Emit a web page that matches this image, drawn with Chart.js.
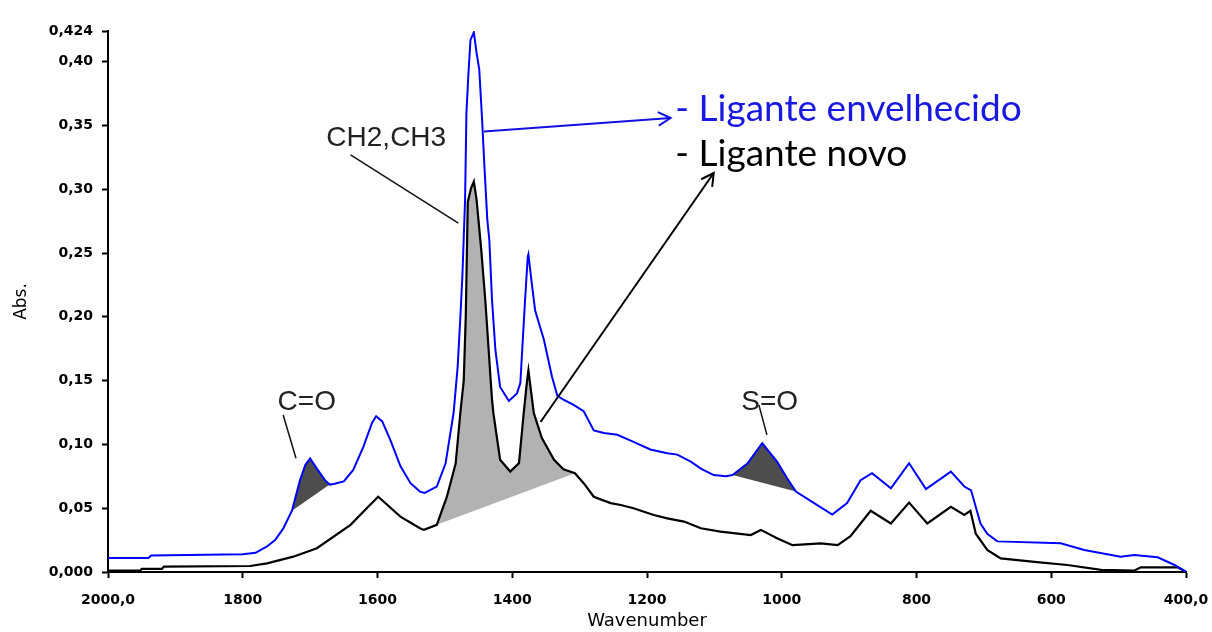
<!DOCTYPE html>
<html><head><meta charset="utf-8">
<script src="https://cdn.jsdelivr.net/npm/chart.js@4.4.1/dist/chart.umd.min.js"></script>
<style>html,body{margin:0;padding:0;background:#fff;} #wrap{width:1212px;height:632px;}</style>
</head><body><div id="wrap"><canvas id="c" width="1212" height="632"></canvas></div>
<script>
// ---- data ----
const blueWn = [2000,1940,1936,1800,1781,1764,1752,1740,1727,1715,1707,1700,1690,1678,1671,1665,1650,1636,1621,1608,1602,1593,1581,1566,1551,1537,1530,1512,1499,1487,1481,1477,1474,1470,1468,1465,1462,1457,1453,1449,1445,1441,1437,1434,1430,1425,1418,1405,1393,1388,1381,1377,1376,1371,1366,1353,1341,1333,1324,1309,1294,1279,1264,1244,1220,1195,1170,1155,1135,1120,1101,1083,1073,1051,1029,1007,992,979,952,925,903,883,866,838,811,786,749,729,719,712,705,695,680,586,551,497,477,442,417,400];
const blueAbs = [0.011,0.011,0.013,0.014,0.015,0.020,0.025,0.034,0.048,0.072,0.084,0.089,0.081,0.072,0.0685,0.069,0.071,0.080,0.098,0.117,0.122,0.118,0.1035,0.083,0.0696,0.063,0.062,0.067,0.085,0.125,0.161,0.200,0.232,0.292,0.360,0.391,0.417,0.423,0.407,0.394,0.357,0.315,0.276,0.260,0.213,0.174,0.145,0.134,0.140,0.148,0.213,0.247,0.249,0.226,0.205,0.182,0.153,0.138,0.135,0.131,0.126,0.111,0.109,0.1075,0.102,0.096,0.093,0.092,0.0865,0.081,0.076,0.075,0.076,0.085,0.101,0.0865,0.0735,0.063,0.054,0.045,0.054,0.072,0.0774,0.0656,0.0853,0.065,0.0787,0.067,0.064,0.051,0.038,0.030,0.024,0.0225,0.0173,0.012,0.0133,0.0115,0.0055,0.0003];
const blackWn = [2000,1952,1950,1920,1917,1789,1764,1725,1690,1640,1616,1599,1566,1537,1531,1512,1497,1484,1477,1472,1469,1466,1461,1457,1453,1446,1440,1435,1432,1430,1428,1418,1403,1390,1383,1378,1376,1368,1356,1338,1324,1307,1294,1279,1254,1239,1220,1190,1170,1145,1120,1091,1046,1031,1007,984,942,917,898,868,838,811,784,749,729,720,712,695,675,625,576,526,477,467,412,400];
const blackAbs = [0.001,0.001,0.0024,0.0024,0.0042,0.0047,0.0068,0.012,0.0186,0.037,0.050,0.059,0.0434,0.0343,0.033,0.037,0.059,0.085,0.125,0.150,0.200,0.290,0.301,0.306,0.292,0.2525,0.213,0.174,0.150,0.135,0.1245,0.088,0.0787,0.0853,0.1245,0.150,0.158,0.1245,0.105,0.088,0.0805,0.0774,0.0696,0.059,0.054,0.0525,0.050,0.0447,0.042,0.0395,0.0343,0.0316,0.029,0.033,0.0264,0.021,0.0225,0.021,0.028,0.048,0.038,0.0544,0.038,0.051,0.0447,0.048,0.030,0.0173,0.0107,0.008,0.0055,0.0016,0.001,0.0037,0.0037,0.000];
const xTickValues = [2000,1800,1600,1400,1200,1000,800,600,400];
const yTickValues = [0,0.05,0.10,0.15,0.20,0.25,0.30,0.35,0.40,0.424];
// shaded bands: [series, upper wavenumber, lower wavenumber]
const coBand = ['blue',1727,1671];
const chBand = ['black',1512,1307];
const soBand = ['blue',1073,979];

// annotation anchors in data units (wavenumber, absorbance)
const labelCH = [1587,0.340], leaderCH = [[1640,0.327],[1480,0.2735]];
const labelCO = [1705,0.1333], leaderCO = [[1740,0.123],[1721,0.0892]];
const labelSO = [1018,0.1333], leaderSO = [[1034,0.131],[1022,0.1075]];
const arrowBlue = [[1442,0.3453],[1165,0.3558]];
const arrowBlack = [[1358,0.1176],[1101,0.3127]];
const legendAged = [1158,0.3532], legendNew = [1158,0.3179];

// ---- build ----
const toPts = (xs, ys) => xs.map((v,i)=>({x:v, y:ys[i]}));
const bluePts = toPts(blueWn, blueAbs);
const blackPts = toPts(blackWn, blackAbs);
function band(b){
  const src = b[0]==='blue' ? bluePts : blackPts;
  const seg = src.filter(p => p.x <= b[1] && p.x >= b[2]);
  seg.push({x:seg[0].x, y:seg[0].y});
  return seg;
}
const comma = s => s.replace('.', ',');

const annot = {
  id:'annot',
  afterDatasetsDraw(chart){
    const {ctx, scales:{x, y}} = chart;
    const P = p => [x.getPixelForValue(p[0]), y.getPixelForValue(p[1])];
    ctx.save();
    function line(a, b, color, w){
      const A=P(a), B=P(b);
      ctx.strokeStyle=color; ctx.lineWidth=w; ctx.beginPath();
      ctx.moveTo(A[0],A[1]); ctx.lineTo(B[0],B[1]); ctx.stroke();
      return [A,B];
    }
    function arrow(seg, color){
      const [A,B] = line(seg[0], seg[1], color, 2);
      const ang = Math.atan2(B[1]-A[1], B[0]-A[0]);
      const L = 14, h = 0.5;
      ctx.beginPath();
      ctx.moveTo(B[0]-L*Math.cos(ang-h), B[1]-L*Math.sin(ang-h));
      ctx.lineTo(B[0],B[1]);
      ctx.lineTo(B[0]-L*Math.cos(ang+h), B[1]-L*Math.sin(ang+h));
      ctx.stroke();
    }
    line(leaderCH[0], leaderCH[1], '#111', 1.5);
    line(leaderCO[0], leaderCO[1], '#111', 1.5);
    line(leaderSO[0], leaderSO[1], '#111', 1.5);
    arrow(arrowBlue, '#1010e0');
    arrow(arrowBlack, '#000');
    ctx.textAlign='center'; ctx.textBaseline='middle';
    ctx.fillStyle='#222';
    ctx.font='28px "Liberation Sans", Arial, sans-serif';
    let p=P(labelCH); ctx.fillText('CH2,CH3', p[0], p[1]);
    p=P(labelCO); ctx.fillText('C=O', p[0], p[1]);
    p=P(labelSO); ctx.fillText('S=O', p[0], p[1]);
    ctx.textAlign='left'; ctx.textBaseline='alphabetic';
    ctx.font='37px Lato, "Open Sans", sans-serif';
    p=P(legendAged); ctx.fillStyle='#1818e0'; ctx.fillText('- Ligante envelhecido', p[0], p[1]);
    p=P(legendNew); ctx.fillStyle='#000'; ctx.fillText('- Ligante novo', p[0], p[1]);
    ctx.restore();
  }
};

const tickFont = {family:'"DejaVu Sans", sans-serif', size:14, weight:'bold'};
new Chart(document.getElementById('c'), {
  type:'line',
  data:{datasets:[
    {data:band(coBand), fill:'shape', backgroundColor:'#4d4d4d', borderWidth:0, pointRadius:0, order:3},
    {data:band(soBand), fill:'shape', backgroundColor:'#4d4d4d', borderWidth:0, pointRadius:0, order:3},
    {data:band(chBand), fill:'shape', backgroundColor:'#b2b2b2', borderWidth:0, pointRadius:0, order:3},
    {label:'Ligante novo', data:blackPts, borderColor:'#000', borderWidth:2.2, pointRadius:0, tension:0, fill:false, order:2},
    {label:'Ligante envelhecido', data:bluePts, borderColor:'#0000ff', borderWidth:2, pointRadius:0, tension:0, fill:false, order:1}
  ]},
  options:{
    responsive:false, animation:false,
    layout:{padding:{left:0, right:26, top:31, bottom:0}},
    plugins:{legend:{display:false}, tooltip:{enabled:false}},
    scales:{
      x:{type:'linear', reverse:true, min:400, max:2000,
        afterBuildTicks:s=>{s.ticks = xTickValues.map(v=>({value:v}));},
        afterFit:s=>{s.height=60; s.paddingLeft=0; s.paddingRight=0;},
        ticks:{autoSkip:false, maxRotation:0, padding:14, color:'#000', font:tickFont,
          callback:v => (v===2000||v===400) ? comma(v.toFixed(1)) : String(v)},
        grid:{drawOnChartArea:false, drawTicks:true, tickLength:6, tickColor:'#000', tickWidth:2},
        border:{display:true, color:'#000', width:2},
        title:{display:true, text:'Wavenumber', color:'#000', font:{family:'"DejaVu Sans", sans-serif', size:18}, padding:{top:0,bottom:0}}
      },
      y:{type:'linear', min:0, max:0.424,
        afterBuildTicks:s=>{s.ticks = yTickValues.map(v=>({value:v}));},
        afterFit:s=>{s.width=108; s.paddingTop=0; s.paddingBottom=0;},
        ticks:{autoSkip:false, padding:9, color:'#000', font:tickFont,
          callback:v => v===0 ? '0,000' : (Math.abs(v-0.424)<1e-9 ? '0,424' : comma(v.toFixed(2)))},
        grid:{drawOnChartArea:false, drawTicks:true, tickLength:6, tickColor:'#000', tickWidth:2},
        border:{display:true, color:'#000', width:2},
        title:{display:true, text:'Abs.', color:'#000', font:{family:'"DejaVu Sans", sans-serif', size:17}, padding:{top:11,bottom:0}}
      }
    }
  },
  plugins:[annot]
});
</script>
</body></html>
